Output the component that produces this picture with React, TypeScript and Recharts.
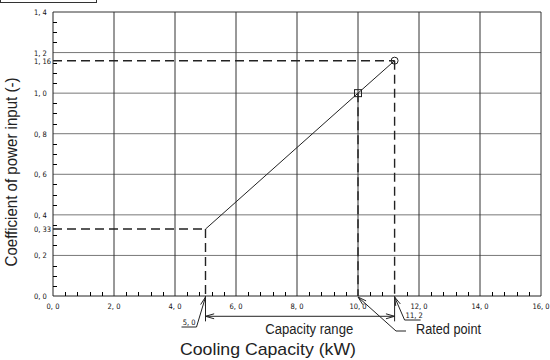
import React from 'react';
import { ComposedChart, Line, XAxis, YAxis, ReferenceLine, ReferenceDot } from 'recharts';

// operating line
const CAPACITY = [5.0, 10.0, 11.2];
const COEFFICIENT = [0.33, 1.0, 1.16];
const MARKER = ['none', 'square', 'circle'];

// axes
const X_TICKS = [0, 2, 4, 6, 8, 10, 12, 14, 16];
const X_TICK_LABELS = ['0, 0', '2, 0', '4, 0', '6, 0', '8, 0', '10, 0', '12, 0', '14, 0', '16, 0'];
const X_MINOR = [
  0.4, 0.8, 1.2, 1.6, 2.4, 2.8, 3.2, 3.6, 4.4, 4.8, 5.2, 5.6, 6.4, 6.8, 7.2, 7.6,
  8.4, 8.8, 9.2, 9.6, 10.4, 10.8, 11.6, 12.4, 12.8, 13.2, 13.6, 14.4, 14.8, 15.2, 15.6,
];
const Y_TICKS = [0, 0.2, 0.33, 0.4, 0.6, 0.8, 1.0, 1.16, 1.2, 1.4];
const Y_TICK_LABELS = ['0, 0', '0, 2', '0, 33', '0, 4', '0, 6', '0, 8', '1, 0', '1, 16', '1, 2', '1, 4'];
const Y_MINOR = [
  0.05, 0.1, 0.15, 0.25, 0.3, 0.35, 0.45, 0.5, 0.55, 0.65, 0.7, 0.75,
  0.85, 0.9, 0.95, 1.05, 1.1, 1.15, 1.25, 1.3, 1.35,
];
const H_GRID = [0.2, 0.4, 0.6, 0.8, 1.0, 1.2];
const V_GRID = [2, 4, 6, 8, 10, 12, 14];

// dimension annotations below the axis (in data units)
const RANGE_Y = -0.1;
const EXT_Y = -0.125;
const RANGE_LABEL_X = 8.4;

const data = CAPACITY.map((c, i) => ({ capacity: c, coef: COEFFICIENT[i], marker: MARKER[i] }));

const INK = '#222';
const TICK_FONT = "'DejaVu Sans Condensed', 'Liberation Sans Narrow', sans-serif";
const TITLE_FONT = "'Liberation Sans', Arial, sans-serif";
const DASH = '9 5';

const YTick = (props: any) => {
  const { x, y, payload } = props;
  const i = Y_TICKS.indexOf(payload.value);
  if (i < 0) return <g />;
  return (
    <text x={x - 19} y={y + 3} fontSize={7.5} fontFamily={TICK_FONT} fill="#111">
      {Y_TICK_LABELS[i]}
    </text>
  );
};

const XTick = (props: any) => {
  const { x, y, payload } = props;
  const i = X_TICKS.indexOf(payload.value);
  if (i < 0) return <g />;
  return (
    <text x={x} y={y + 13} textAnchor="middle" fontSize={7.5} fontFamily={TICK_FONT} fill="#111">
      {X_TICK_LABELS[i]}
    </text>
  );
};

const xMinorMark = (p: any) => (
  <path d={`M${Math.round(p.cx) + 0.5},${p.cy} V${p.cy - 4}`} stroke="#000" strokeWidth={1} fill="none" />
);
const yMinorMark = (p: any) => (
  <path d={`M${p.cx},${Math.round(p.cy) + 0.5} H${p.cx + 4}`} stroke="#000" strokeWidth={1} fill="none" />
);

const renderDot = (props: any) => {
  const { cx, cy, payload, index } = props;
  if (payload.marker === 'square') {
    return <rect key={index} x={cx - 3.5} y={cy - 3.5} width={7} height={7} fill="none" stroke={INK} strokeWidth={1} />;
  }
  if (payload.marker === 'circle') {
    return <circle key={index} cx={cx} cy={cy} r={3.5} fill="none" stroke={INK} strokeWidth={1} />;
  }
  return <g key={index} />;
};

// open arrowhead at (tx, ty) for a line coming from (fx, fy)
const arrowHead = (tx: number, ty: number, fx: number, fy: number) => {
  const a = Math.atan2(fy - ty, fx - tx);
  const len = 9;
  const sp = 0.28;
  return (
    <path
      d={`M${tx + len * Math.cos(a - sp)},${ty + len * Math.sin(a - sp)} L${tx},${ty} L${tx + len * Math.cos(a + sp)},${ty + len * Math.sin(a + sp)}`}
      fill="none"
      stroke={INK}
      strokeWidth={1}
    />
  );
};

const leader = (label: string, dx: number, dy: number, ul: number, side: 'left' | 'right') => (p: any) => {
  const { cx, cy } = p;
  const tx = cx;
  const ty = cy + 1;
  const ex = cx + dx;
  const ey = cy + dy;
  const ux = side === 'left' ? ex - ul : ex + ul;
  return (
    <g>
      <line x1={tx} y1={ty} x2={ex} y2={ey} stroke={INK} strokeWidth={1} />
      <line x1={ex} y1={ey} x2={ux} y2={ey} stroke={INK} strokeWidth={1} />
      {arrowHead(tx, ty, ex, ey)}
      <text
        x={side === 'left' ? ex - 1 : ex + 1}
        y={ey - 2}
        textAnchor={side === 'left' ? 'end' : 'start'}
        fontSize={7.5}
        fontFamily={TICK_FONT}
        fill="#111"
      >
        {label}
      </text>
    </g>
  );
};

const ratedLeader = (p: any) => {
  const { cx, cy } = p;
  const ty = cy + 1;
  const ex = cx + 38;
  const ey = cy + 35;
  return (
    <g>
      <line x1={cx} y1={ty} x2={ex} y2={ey} stroke={INK} strokeWidth={1} />
      <line x1={ex} y1={ey} x2={ex + 10} y2={ey} stroke={INK} strokeWidth={1} />
      {arrowHead(cx, ty, ex, ey)}
      <text x={ex + 20} y={ey + 3} fontSize={14} fontFamily={TITLE_FONT} fill="#222" textLength={65} lengthAdjust="spacingAndGlyphs">
        Rated point
      </text>
    </g>
  );
};

const rangeEnd = (dir: number) => (p: any) => {
  const { cx, cy } = p;
  return arrowHead(cx, cy, cx + dir * 12, cy);
};

const rangeLabel = (p: any) => {
  const { cx, cy } = p;
  return (
    <text x={cx} y={cy + 18} textAnchor="middle" fontSize={14} fontFamily={TITLE_FONT} fill="#222" textLength={88} lengthAdjust="spacingAndGlyphs">
      Capacity range
    </text>
  );
};

const XTitle = (props: any) => {
  const { viewBox } = props;
  return (
    <text x={viewBox.x + 215} y={viewBox.y + 59} textAnchor="middle" fontSize={17} fontFamily={TITLE_FONT} fill="#222" textLength={176} lengthAdjust="spacingAndGlyphs">
      Cooling Capacity (kW)
    </text>
  );
};

const YTitle = (props: any) => {
  const { viewBox } = props;
  const x = viewBox.x + 17;
  const y = viewBox.y + 160;
  return (
    <text x={x} y={y} transform={`rotate(-90, ${x}, ${y})`} textAnchor="middle" fontSize={16} fontFamily={TITLE_FONT} fill="#222" textLength={189} lengthAdjust="spacingAndGlyphs">
      Coefficient of power input (-)
    </text>
  );
};

export default function App() {
  return (
    <div style={{ position: 'absolute', left: 0, top: 0, width: 550, height: 360, background: '#fff', overflow: 'hidden' }}>
      <div style={{ position: 'absolute', left: 0, top: -10, width: 97, height: 13, boxSizing: 'border-box', border: '1px solid #333' }} />
      <ComposedChart width={550} height={360} data={data} margin={{ top: 12, right: 9, bottom: 0, left: 0 }}>
        <XAxis
          type="number"
          dataKey="capacity"
          domain={[0, 16]}
          ticks={X_TICKS}
          interval={0}
          tick={<XTick />}
          tickLine={false}
          tickSize={0}
          tickMargin={0}
          height={64}
          axisLine={{ stroke: INK }}
          allowDataOverflow
          label={<XTitle />}
        />
        <YAxis
          type="number"
          domain={[0, 1.4]}
          ticks={Y_TICKS}
          interval={0}
          tick={<YTick />}
          tickLine={false}
          tickSize={0}
          tickMargin={0}
          width={53}
          axisLine={{ stroke: INK }}
          allowDataOverflow
          label={<YTitle />}
        />
        {H_GRID.map((v) => (
          <ReferenceLine key={`h${v}`} y={v} stroke="#777" strokeWidth={1} />
        ))}
        {V_GRID.map((v) => (
          <ReferenceLine key={`v${v}`} x={v} stroke="#333" strokeWidth={1} />
        ))}
        <ReferenceLine y={1.4} stroke="#333" strokeWidth={1} />
        <ReferenceLine x={16} stroke="#333" strokeWidth={1} />
        {X_MINOR.map((v) => (
          <ReferenceDot key={`xm${v}`} x={v} y={0} r={0} ifOverflow="visible" shape={xMinorMark} />
        ))}
        {Y_MINOR.map((v) => (
          <ReferenceDot key={`ym${v}`} x={0} y={v} r={0} ifOverflow="visible" shape={yMinorMark} />
        ))}

        <ReferenceLine segment={[{ x: 0, y: COEFFICIENT[0] }, { x: CAPACITY[0], y: COEFFICIENT[0] }]} stroke={INK} strokeWidth={1.4} strokeDasharray={DASH} />
        <ReferenceLine segment={[{ x: CAPACITY[0], y: COEFFICIENT[0] }, { x: CAPACITY[0], y: 0 }]} stroke={INK} strokeWidth={1.4} strokeDasharray={DASH} />
        <ReferenceLine segment={[{ x: 0, y: COEFFICIENT[2] }, { x: CAPACITY[2], y: COEFFICIENT[2] }]} stroke={INK} strokeWidth={1.4} strokeDasharray={DASH} />
        <ReferenceLine segment={[{ x: CAPACITY[2], y: COEFFICIENT[2] }, { x: CAPACITY[2], y: 0 }]} stroke={INK} strokeWidth={1.4} strokeDasharray={DASH} />
        <ReferenceLine segment={[{ x: CAPACITY[1], y: COEFFICIENT[1] }, { x: CAPACITY[1], y: 0 }]} stroke={INK} strokeWidth={1.4} strokeDasharray={DASH} />

        <ReferenceLine segment={[{ x: CAPACITY[0], y: 0 }, { x: CAPACITY[0], y: EXT_Y }]} stroke={INK} strokeWidth={1} ifOverflow="visible" />
        <ReferenceLine segment={[{ x: CAPACITY[2], y: 0 }, { x: CAPACITY[2], y: EXT_Y }]} stroke={INK} strokeWidth={1} ifOverflow="visible" />
        <ReferenceLine segment={[{ x: CAPACITY[0], y: RANGE_Y }, { x: CAPACITY[2], y: RANGE_Y }]} stroke={INK} strokeWidth={1} ifOverflow="visible" />
        <ReferenceDot x={CAPACITY[0]} y={RANGE_Y} r={0} ifOverflow="visible" shape={rangeEnd(1)} />
        <ReferenceDot x={CAPACITY[2]} y={RANGE_Y} r={0} ifOverflow="visible" shape={rangeEnd(-1)} />
        <ReferenceDot x={RANGE_LABEL_X} y={RANGE_Y} r={0} ifOverflow="visible" shape={rangeLabel} />
        <ReferenceDot x={CAPACITY[0]} y={0} r={0} ifOverflow="visible" shape={leader('5, 0', -9, 31, 15, 'left')} />
        <ReferenceDot x={CAPACITY[2]} y={0} r={0} ifOverflow="visible" shape={leader('11, 2', 10, 24, 16, 'right')} />
        <ReferenceDot x={CAPACITY[1]} y={0} r={0} ifOverflow="visible" shape={ratedLeader} />

        <Line type="linear" dataKey="coef" stroke={INK} strokeWidth={1} dot={renderDot} activeDot={false} isAnimationActive={false} />
      </ComposedChart>
    </div>
  );
}
